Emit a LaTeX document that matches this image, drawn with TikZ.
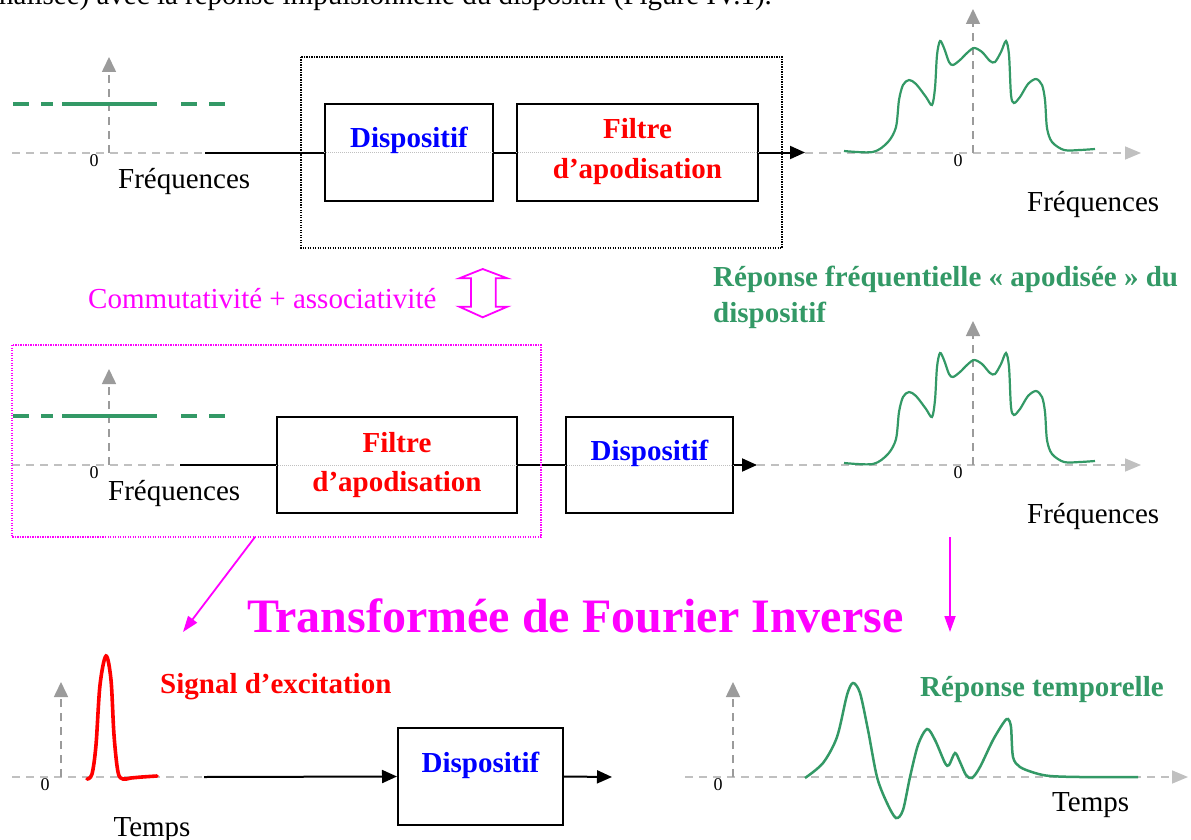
\documentclass[tikz,border=0pt]{standalone}
\usepackage{fontspec}
\setmainfont{Liberation Serif}
\usetikzlibrary{arrows.meta}
\definecolor{dgreen}{RGB}{51,153,102}
\definecolor{axlight}{RGB}{192,192,192}
\definecolor{axdark}{RGB}{155,155,155}
\definecolor{mag}{RGB}{255,0,255}
\definecolor{tblue}{RGB}{0,0,255}
\definecolor{tred}{RGB}{255,0,0}
\begin{document}
\begin{tikzpicture}[x=1pt,y=-1pt,
  txt/.style={font=\fontsize{29}{34}\selectfont, inner sep=0pt},
  btxt/.style={font=\fontsize{29}{34}\selectfont\bfseries, inner sep=0pt},
  zero/.style={font=\fontsize{18}{20}\selectfont, inner sep=0pt, anchor=base},
  boxnode/.style={draw=black, line width=2pt, inner sep=0pt, fill=none},
  conn/.style={draw=black, line width=2pt},
  connarr/.style={conn, -{Triangle[length=15pt,width=13pt]}},
  axH/.style={draw=axlight, line width=1.6pt, dash pattern=on 8pt off 6pt, -{Triangle[length=16pt,width=13pt]}},
  axHplain/.style={draw=axlight, line width=1.6pt, dash pattern=on 8pt off 6pt},
  axV/.style={draw=axdark, line width=1.6pt, dash pattern=on 8pt off 6pt, -{Triangle[length=15pt,width=14pt]}},
  indot/.style={draw=axlight, line width=1pt, dash pattern=on 1pt off 1pt},
  gdash/.style={draw=dgreen, line width=3.8pt},
  gcurve/.style={draw=dgreen, line width=2.2pt},
  dotbox/.style={line width=1.4pt, dash pattern=on 1.2pt off 1.3pt},
  magarrow/.style={draw=mag, line width=1.8pt, -{Triangle[length=16pt,width=11pt]}}
]
\useasboundingbox (0,0) rectangle (1191,840);
\fill[white] (0,0) rectangle (1191,840);

% cut-off caption line at the top
\node[txt, anchor=base east] (cap) at (772,5) {normalisée) avec la réponse impulsionnelle du dispositif (Figure IV.1).};

% ================= ROW 1 =================
\draw[axHplain] (12,153) -- (205,153);
\draw[axV] (109,153) -- (109,57);
\foreach \a/\b in {13/29,41/53,62/157,181/197,209/225}{\draw[gdash] (\a,104) -- (\b,104);}
\node[zero] (z1l) at (94,166) {0};
\node[txt, anchor=base west] (f1l) at (118,188) {Fréquences};

\draw[dotbox] (301,57) rectangle (782,248);

\node[boxnode, minimum width=168pt, minimum height=97pt] (b1) at (409,152.5) {};
\node[boxnode, minimum width=241pt, minimum height=97pt] (b2) at (637.5,152.5) {};
\draw[indot] (b1.west) -- (b1.east);
\draw[indot] (b2.west) -- (b2.east);
\node[btxt, text=tblue, anchor=base] (t1) at (409,148) {Dispositif};
\node[btxt, text=tred, anchor=base] (t2a) at (637.5,139) {Filtre};
\node[btxt, text=tred, anchor=base] (t2b) at (637.5,178) {d’apodisation};

\coordinate (r1in) at (205,152.5);
\coordinate (r1out) at (805,152.5);
\draw[conn] (r1in) -- (b1.west);
\draw[conn] (b1.east) -- (b2.west);
\draw[connarr] (b2.east) -- (r1out);

\draw[axH] (805,153) -- (1141,153);
\draw[axV] (973,153) -- (973,9);
\def\freqcurve{(844,151) (873,152) (888,142) (896,127) (899,100) (903,85) (909,80) (916,84) (926,97) (932,105) (935,88) (937,55) (940,41) (944,48) (949,62) (953,65) (960,60) (967,53) (974,48) (982,52) (990,61) (995,62) (1001,52) (1006,41) (1009,55) (1011,95) (1014,103) (1020,97) (1028,84) (1036,79) (1042,85) (1045,100) (1047,128) (1052,142) (1064,150) (1080,150) (1095,149)}
\draw[gcurve] plot[smooth, tension=0.5] coordinates {\freqcurve};
\node[zero] (z1r) at (958,166) {0};
\node[txt, anchor=base west] (f1r) at (1027,211) {Fréquences};

% ================= MIDDLE =================
\node[txt, text=mag, anchor=base west] (comm) at (88,308) {Commutativité + associativité};
\draw[mag, line width=1.8pt, fill=white, line join=miter]
  (482.7,269) -- (507.3,278.3) -- (495.7,278.3) -- (495.7,306.7) -- (507.3,306.7)
  -- (482.7,317.3) -- (459.3,306.7) -- (471,306.7) -- (471,278.3) -- (459.3,278.3) -- cycle;
\node[btxt, text=dgreen, anchor=base west] (rf1) at (713,286) {Réponse fréquentielle « apodisée » du};
\node[btxt, text=dgreen, anchor=base west] (rf2) at (713,322) {dispositif};

% ================= ROW 2 =================
\draw[axHplain] (12,465) -- (180,465);
\draw[axV] (109,465) -- (109,369);
\foreach \a/\b in {13/29,41/53,62/157,181/197,209/225}{\draw[gdash] (\a,416) -- (\b,416);}
\node[zero] (z2l) at (94,478) {0};
\node[txt, anchor=base west] (f2l) at (108,500) {Fréquences};

\node[boxnode, minimum width=240pt, minimum height=96pt] (b3) at (397,465) {};
\node[boxnode, minimum width=167pt, minimum height=96pt] (b4) at (649.5,465) {};
\draw[indot] (b3.west) -- (b3.east);
\draw[indot] (b4.west) -- (b4.east);
\node[btxt, text=tred, anchor=base] (t3a) at (397,452) {Filtre};
\node[btxt, text=tred, anchor=base] (t3b) at (397,491) {d’apodisation};
\node[btxt, text=tblue, anchor=base] (t4) at (649.5,460) {Dispositif};

\coordinate (r2in) at (180,465);
\coordinate (r2out) at (757,465);
\draw[conn] (r2in) -- (b3.west);
\draw[conn] (b3.east) -- (b4.west);
\draw[connarr] (b4.east) -- (r2out);

\draw[dotbox, draw=mag] (12,345) rectangle (541,537);

\draw[axH] (757,465) -- (1141,465);
\draw[axV] (973,465) -- (973,321);
\begin{scope}[shift={(0,312)}]
\draw[gcurve] plot[smooth, tension=0.5] coordinates {\freqcurve};
\end{scope}
\node[zero] (z2r) at (958,478) {0};
\node[txt, anchor=base west] (f2r) at (1027,523) {Fréquences};

% ================= TRANSFORM =================
\coordinate (m1s) at (255,537);
\coordinate (m1e) at (183,632);
\coordinate (m2s) at (950,537);
\coordinate (m2e) at (950,632);
\draw[magarrow] (m1s) -- (m1e);
\draw[magarrow] (m2s) -- (m2e);
\node[font=\fontsize{48}{54}\selectfont\bfseries, text=mag, inner sep=0pt, anchor=base west] (tfi) at (247,632) {Transformée de Fourier Inverse};

% ================= ROW 3 =================
\draw[axHplain] (12,777) -- (204,777);
\draw[axV] (61,777) -- (61,682);
\draw[tred, line width=3.6pt, line cap=round] plot[smooth, tension=0.55] coordinates {(87,779) (92,774) (96,745) (100,685) (106,656) (111,680) (114,735) (118,772) (123,779) (131,778) (142,777) (157,776)};
\node[zero] (z3l) at (45,790) {0};
\node[txt, anchor=base] (tl) at (152,836) {Temps};
\node[btxt, text=tred, anchor=base west] (sig) at (160,693) {Signal d’excitation};

\node[boxnode, minimum width=165pt, minimum height=97pt] (b5) at (480.5,776.5) {};
\node[btxt, text=tblue, anchor=base] (t5) at (480.5,772) {Dispositif};
\coordinate (r3in) at (204,777);
\coordinate (r3out) at (612,777);
\draw[connarr] (r3in) -- (b5.west);
\draw[connarr] (b5.east) -- (r3out);

\draw[axH] (685,777) -- (1188,777);
\draw[axV] (733,777) -- (733,682);
\draw[dgreen, line width=2.5pt] plot[smooth, tension=0.5] coordinates {(805,778) (823,763) (837,737) (847,695) (853,683) (860,693) (868,730) (877,777) (887,803) (896,818) (903,810) (910,777) (918,745) (927,729) (935,740) (945,763) (949,765) (955,753) (960,762) (966,775) (972,778) (980,767) (993,740) (1004,722) (1008,719) (1011,727) (1013,757) (1020,767) (1035,773) (1050,776) (1080,777) (1138,777)};
\node[zero] (z3r) at (718,790) {0};
\node[btxt, text=dgreen, anchor=base west] (rt) at (920,696) {Réponse temporelle};
\node[txt, anchor=base west] (tr) at (1052,811) {Temps};
\end{tikzpicture}
\end{document}
